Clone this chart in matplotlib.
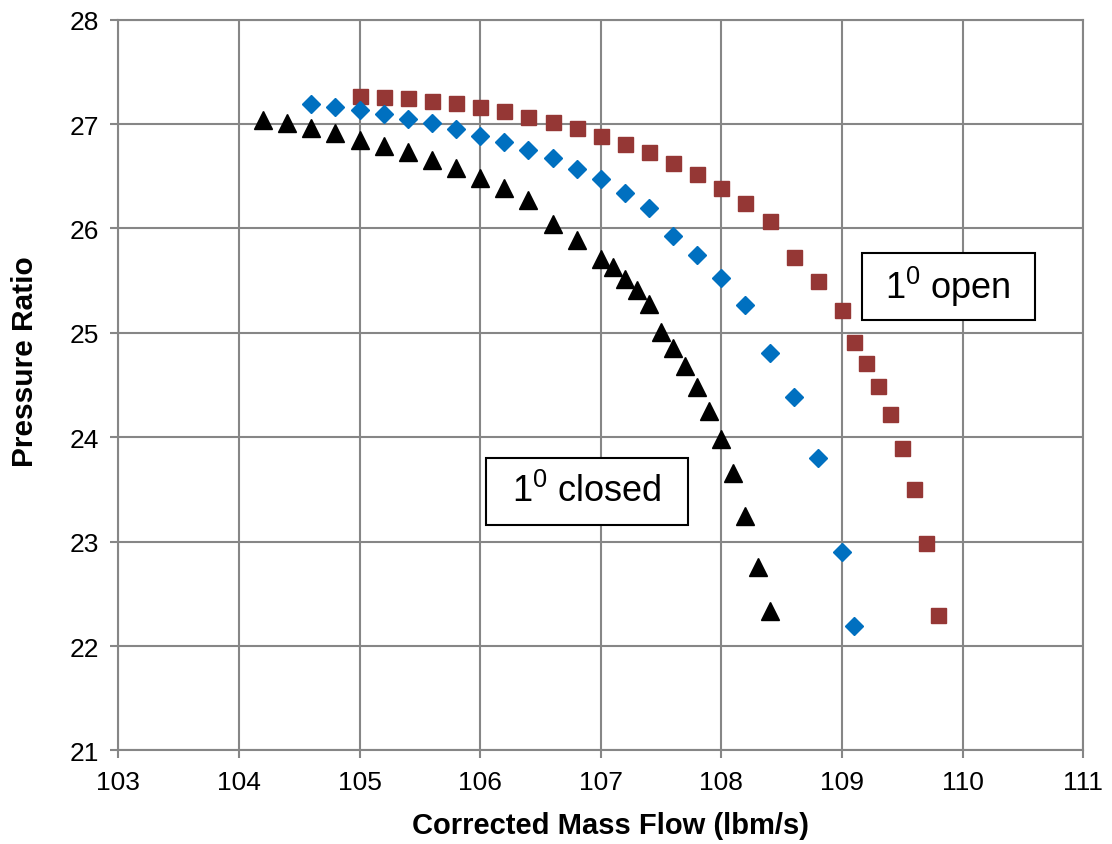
import matplotlib.pyplot as plt
from matplotlib.patches import Rectangle

plt.rcParams['font.family'] = ['Liberation Sans', 'DejaVu Sans']

# 1 deg open (red squares)
open_x = [105.0, 105.2, 105.4, 105.6, 105.8, 106.0, 106.2, 106.4, 106.6, 106.8,
          107.0, 107.2, 107.4, 107.6, 107.8, 108.0, 108.2, 108.4, 108.6, 108.8,
          109.0, 109.1, 109.2, 109.3, 109.4, 109.5, 109.6, 109.7, 109.8]
open_y = [27.27, 27.26, 27.25, 27.22, 27.20, 27.16, 27.12, 27.07, 27.02, 26.96,
          26.89, 26.81, 26.73, 26.63, 26.52, 26.39, 26.24, 26.07, 25.73, 25.50,
          25.22, 24.91, 24.71, 24.49, 24.22, 23.90, 23.50, 22.99, 22.30]

# nominal (blue diamonds)
nom_x = [104.6, 104.8, 105.0, 105.2, 105.4, 105.6, 105.8, 106.0, 106.2, 106.4,
         106.6, 106.8, 107.0, 107.2, 107.4, 107.6, 107.8, 108.0, 108.2, 108.4,
         108.6, 108.8, 109.0, 109.1]
nom_y = [27.19, 27.16, 27.13, 27.10, 27.05, 27.01, 26.95, 26.89, 26.83, 26.75,
         26.67, 26.57, 26.47, 26.34, 26.20, 25.93, 25.75, 25.53, 25.27, 24.81,
         24.39, 23.80, 22.90, 22.19]

# 1 deg closed (black triangles)
closed_x = [104.2, 104.4, 104.6, 104.8, 105.0, 105.2, 105.4, 105.6, 105.8, 106.0,
            106.2, 106.4, 106.6, 106.8, 107.0, 107.1, 107.2, 107.3, 107.4, 107.5,
            107.6, 107.7, 107.8, 107.9, 108.0, 108.1, 108.2, 108.3, 108.4]
closed_y = [27.04, 27.01, 26.96, 26.91, 26.85, 26.79, 26.73, 26.66, 26.58, 26.48,
            26.39, 26.27, 26.04, 25.89, 25.71, 25.63, 25.52, 25.41, 25.28, 25.01,
            24.85, 24.68, 24.48, 24.25, 23.98, 23.66, 23.25, 22.76, 22.34]

x_ticks = [103, 104, 105, 106, 107, 108, 109, 110, 111]
y_ticks = [21, 22, 23, 24, 25, 26, 27, 28]

grey = '#868686'

fig = plt.figure(figsize=(11.12, 8.45), dpi=100)
ax = fig.add_axes([0.1065, 0.1107, 0.8675, 0.8649])

ax.plot(open_x, open_y, ls='none', marker='s', ms=10.8, color='#953735', label='1° open')
ax.plot(nom_x, nom_y, ls='none', marker='D', ms=8.8, color='#0070C0', label='nominal')
ax.plot(closed_x, closed_y, ls='none', marker='^', ms=12.8, color='black', label='1° closed')

ax.set_xlim(103, 111)
ax.set_ylim(21, 28)
ax.set_xticks(x_ticks)
ax.set_yticks(y_ticks)
ax.grid(True, color=grey, lw=1.5)
ax.set_axisbelow(True)
for s in ax.spines.values():
    s.set_color(grey)
    s.set_linewidth(1.5)
ax.tick_params(direction='out', length=6, width=1.5, color=grey,
               labelsize=19, labelcolor='black')
ax.tick_params(axis='x', pad=8)
ax.tick_params(axis='y', pad=8)

ax.set_xlabel('Corrected Mass Flow (lbm/s)', fontsize=21, fontweight='bold',
              labelpad=12, x=0.51)
ax.set_ylabel('Pressure Ratio', fontsize=21.5, fontweight='bold',
              labelpad=22, y=0.534)

# annotation boxes
ax.add_patch(Rectangle((0.7705, 0.5895), 0.1797, 0.0917, transform=ax.transAxes,
                       facecolor='white', edgecolor='black', lw=1.5, zorder=5))
ax.text(0.8601, 0.6355, r'$\mathregular{1^0}$ open', transform=ax.transAxes,
        fontsize=26, ha='center', va='center', zorder=6)

ax.add_patch(Rectangle((0.3807, 0.3085), 0.2097, 0.0922, transform=ax.transAxes,
                       facecolor='white', edgecolor='black', lw=1.5, zorder=5))
ax.text(0.4856, 0.3546, r'$\mathregular{1^0}$ closed', transform=ax.transAxes,
        fontsize=26, ha='center', va='center', zorder=6)

fig.savefig('out.png', dpi=100)
